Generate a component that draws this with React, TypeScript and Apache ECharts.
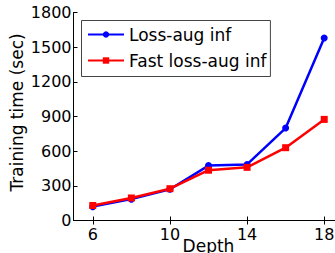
import React, { useEffect, useRef } from "react";
import * as echarts from "echarts";

const depths = [6, 8, 10, 12, 14, 16, 18];
const lossAug = [120, 185, 270, 475, 485, 800, 1580];
const fastLossAug = [130, 195, 275, 435, 460, 630, 875];
const xTicks = [6, 10, 14, 18];
const yTicks = [0, 300, 600, 900, 1200, 1500, 1800];

const FONT = "DejaVu Sans";

export default function App() {
  const ref = useRef<HTMLDivElement>(null);
  useEffect(() => {
    if (!ref.current) return;
    const chart = echarts.init(ref.current, undefined, { renderer: "svg" });
    const axisCommon = {
      type: "value" as const,
      min: 5,
      max: 19,
      axisLine: { show: true, lineStyle: { color: "#000", width: 1 } },
      axisTick: { show: true, inside: true, length: 4, customValues: xTicks, lineStyle: { color: "#000" } },
      splitLine: { show: false },
    };
    chart.setOption({
      animation: false,
      backgroundColor: "#fff",
      grid: { left: 73.5, top: 12.5, width: 270, height: 208, containLabel: false, outerBoundsMode: "none" },
      legend: {
        orient: "vertical",
        left: 81.5,
        top: 20.5,
        padding: [5.5, 4, 7.5, 5.5],
        itemGap: 9,
        itemWidth: 36,
        itemHeight: 8,
        itemTextGap: 19,
        backgroundColor: "#fff",
        borderColor: "#444",
        borderWidth: 1,
        borderRadius: 0,
        textStyle: { fontFamily: FONT, fontSize: 17, color: "#000", lineHeight: 16 },
        data: ["Loss-aug inf", "Fast loss-aug inf"],
      },
      xAxis: [
        {
          ...axisCommon,
          position: "bottom",
          name: "Depth",
          nameLocation: "middle",
          nameGap: 17,
          nameMoveOverlap: false,
          nameTextStyle: { fontFamily: FONT, fontSize: 17, color: "#000" },
          axisLabel: { show: true, customValues: xTicks, fontFamily: FONT, fontSize: 16, color: "#000", margin: 6 },
        },
        {
          ...axisCommon,
          position: "top",
          axisLabel: { show: false },
        },
      ],
      yAxis: [
        {
          type: "value",
          min: 0,
          max: 1800,
          interval: 300,
          position: "left",
          name: "Training time (sec)",
          nameLocation: "middle",
          nameGap: 48,
          nameMoveOverlap: false,
          nameTextStyle: { fontFamily: FONT, fontSize: 17, color: "#000", padding: [0, 0, 0, 8] },
          axisLine: { show: true, lineStyle: { color: "#000", width: 1 } },
          axisTick: { show: true, inside: true, length: 4, lineStyle: { color: "#000" } },
          axisLabel: { fontFamily: FONT, fontSize: 16, color: "#000", margin: 2, formatter: (v: number) => (yTicks.includes(v) ? String(v) : "") },
          splitLine: { show: false },
        },
        {
          type: "value",
          min: 0,
          max: 1800,
          interval: 300,
          position: "right",
          axisLine: { show: true, lineStyle: { color: "#000", width: 1 } },
          axisTick: { show: true, inside: true, length: 4, lineStyle: { color: "#000" } },
          axisLabel: { show: false },
          splitLine: { show: false },
        },
      ],
      series: [
        {
          name: "Loss-aug inf",
          type: "line",
          data: depths.map((d, i) => [d, lossAug[i]]),
          symbol: "circle",
          symbolSize: 7,
          color: "#0000ff",
          lineStyle: { width: 2.5, color: "#0000ff" },
          itemStyle: { color: "#0000ff" },
        },
        {
          name: "Fast loss-aug inf",
          type: "line",
          data: depths.map((d, i) => [d, fastLossAug[i]]),
          symbol: "rect",
          symbolSize: 7,
          color: "#ff0000",
          lineStyle: { width: 2.5, color: "#ff0000" },
          itemStyle: { color: "#ff0000" },
        },
      ],
    });
    return () => chart.dispose();
  }, []);
  return <div ref={ref} style={{ width: 335, height: 253, position: "absolute", left: 0, top: 0 }} />;
}
